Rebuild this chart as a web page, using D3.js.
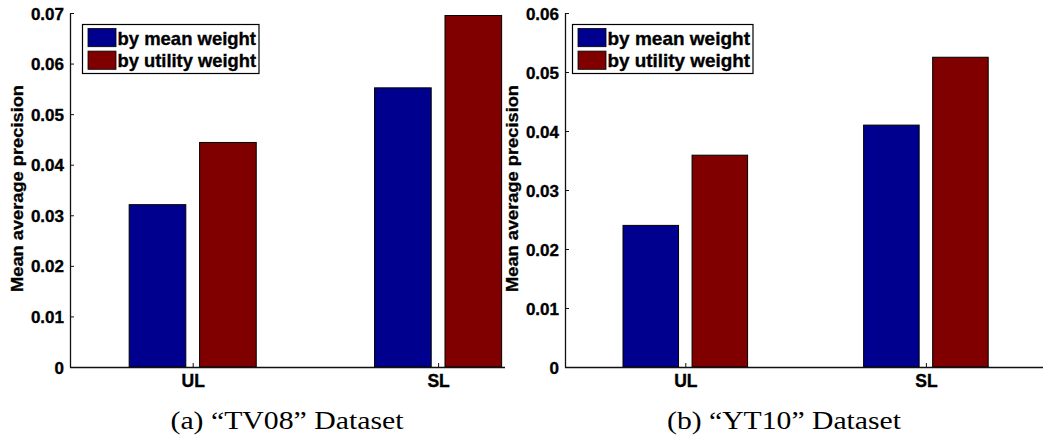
<!DOCTYPE html>
<html>
<head>
<meta charset="utf-8">
<script src="https://cdn.jsdelivr.net/npm/d3@7"></script>
<style>
  html, body { margin: 0; padding: 0; background: #fff; }
  svg { display: block; }
  .tick-label { font-family: "Liberation Sans", Arial, sans-serif; font-weight: bold; font-size: 17px; fill: #000; stroke: #000; stroke-width: 0.35px; }
  .xtick-label { font-family: "Liberation Sans", Arial, sans-serif; font-weight: bold; font-size: 17.5px; fill: #000; stroke: #000; stroke-width: 0.35px; }
  .ylab { font-family: "Liberation Sans", Arial, sans-serif; font-weight: bold; font-size: 16.5px; fill: #000; stroke: #000; stroke-width: 0.3px; }
  .leg { font-family: "Liberation Sans", Arial, sans-serif; font-weight: bold; font-size: 19px; fill: #000; stroke: #000; stroke-width: 0.35px; }
  .cap { font-family: "Liberation Serif", "Times New Roman", serif; font-size: 25px; fill: #000; }
</style>
</head>
<body>
<svg id="chart" width="1043" height="441"></svg>
<script>
// ---- data ----
const categories = ["UL", "SL"];
const seriesNames = ["by mean weight", "by utility weight"];
const tv08Mean = [0.0321, 0.0552];
const tv08Utility = [0.0444, 0.0695];
const yt10Mean = [0.0240, 0.0410];
const yt10Utility = [0.0359, 0.0525];
const tv08Ticks = [0, 0.01, 0.02, 0.03, 0.04, 0.05, 0.06, 0.07];
const yt10Ticks = [0, 0.01, 0.02, 0.03, 0.04, 0.05, 0.06];
const captions = ["(a)  \u201CTV08\u201D Dataset", "(b)  \u201CYT10\u201D Dataset"];
const yTitle = "Mean average precision";
const colors = ["#00008F", "#800000"];

const svg = d3.select("#chart");
const W = 1043;

const panels = [
  { x0: 70, unit: 245.4, xEnd: 505, ymax: 0.07, ticks: tv08Ticks, series: [tv08Mean, tv08Utility],
    legX: 82.5, legW: 176.5, ylabX: 22.7, capX: 287, capLen: 233, caption: captions[0] },
  { x0: 565, unit: 240.6, xEnd: 1043, ymax: 0.06, ticks: yt10Ticks, series: [yt10Mean, yt10Utility],
    legX: 572.5, legW: 180.5, ylabX: 517.7, capX: 784, capLen: 234, caption: captions[1] }
];

const yTop = 13, yBot = 367;
const barOff = 0.1435, barW = 0.2308;

panels.forEach(p => {
  const g = svg.append("g");
  const x = d3.scaleLinear().domain([0.5, 2.5]).range([p.x0, p.x0 + 2 * p.unit]);
  const y = d3.scaleLinear().domain([0, p.ymax]).range([yBot, yTop]);

  // bars
  p.series.forEach((vals, si) => {
    g.selectAll(null).data(vals).enter().append("rect")
      .attr("x", (d, i) => x(i + 1 + (si === 0 ? -barOff : barOff) - barW / 2))
      .attr("width", x(barW) - x(0))
      .attr("y", d => y(d))
      .attr("height", d => y(0) - y(d))
      .attr("fill", colors[si])
      .attr("stroke", "#000")
      .attr("stroke-width", 1);
  });

  // y axis (ticks inward)
  const yAxis = d3.axisLeft(y).tickValues(p.ticks).tickSizeInner(-4).tickSizeOuter(0)
    .tickFormat(v => v === 0 ? "0" : d3.format(".2f")(v));
  const ya = g.append("g").attr("transform", `translate(${p.x0},0)`).call(yAxis);
  ya.select(".domain").attr("stroke", "#111").attr("stroke-width", 1.3);
  ya.selectAll(".tick line").attr("stroke", "#111");
  ya.selectAll(".tick text").attr("class", "tick-label").attr("x", -6).attr("dy", "0.36em").attr("fill", "#000");
  ya.attr("font-family", null).attr("font-size", null);

  // x axis (ticks inward)
  const xAxis = d3.axisBottom(x).tickValues([1, 2]).tickSizeInner(-4).tickSizeOuter(0)
    .tickFormat((d, i) => categories[i]);
  const xa = g.append("g").attr("transform", `translate(0,${yBot})`).call(xAxis);
  xa.select(".domain").attr("d", `M${p.x0},0.5H${Math.min(p.xEnd, W)}`).attr("stroke", "#111").attr("stroke-width", 1.3);
  xa.selectAll(".tick line").attr("stroke", "#111");
  xa.selectAll(".tick text").attr("class", "xtick-label").attr("y", 20).attr("dy", 0).attr("fill", "#000");
  xa.attr("font-family", null).attr("font-size", null);

  // y title
  g.append("text").attr("class", "ylab")
    .attr("transform", `translate(${p.ylabX},188.5) rotate(-90)`)
    .attr("text-anchor", "middle")
    .attr("textLength", 207).attr("lengthAdjust", "spacingAndGlyphs")
    .text(yTitle);

  // legend
  const lg = g.append("g");
  lg.append("rect").attr("x", p.legX).attr("y", 24.5).attr("width", p.legW).attr("height", 49)
    .attr("fill", "#fff").attr("stroke", "#000").attr("stroke-width", 1.2);
  seriesNames.forEach((name, i) => {
    lg.append("rect").attr("x", p.legX + 5.5).attr("y", 28.5 + i * 22.6).attr("width", 28).attr("height", 18.2)
      .attr("fill", colors[i]).attr("stroke", "#000").attr("stroke-width", 0.8);
    lg.append("text").attr("class", "leg")
      .attr("x", p.legX + 35).attr("y", 45 + i * 21.5)
      .attr("textLength", p.legW - 38).attr("lengthAdjust", "spacingAndGlyphs")
      .text(name);
  });

  // caption
  svg.append("text").attr("class", "cap")
    .attr("x", p.capX).attr("y", 429).attr("text-anchor", "middle")
    .attr("textLength", p.capLen).attr("lengthAdjust", "spacingAndGlyphs")
    .text(p.caption);
});
</script>
</body>
</html>
